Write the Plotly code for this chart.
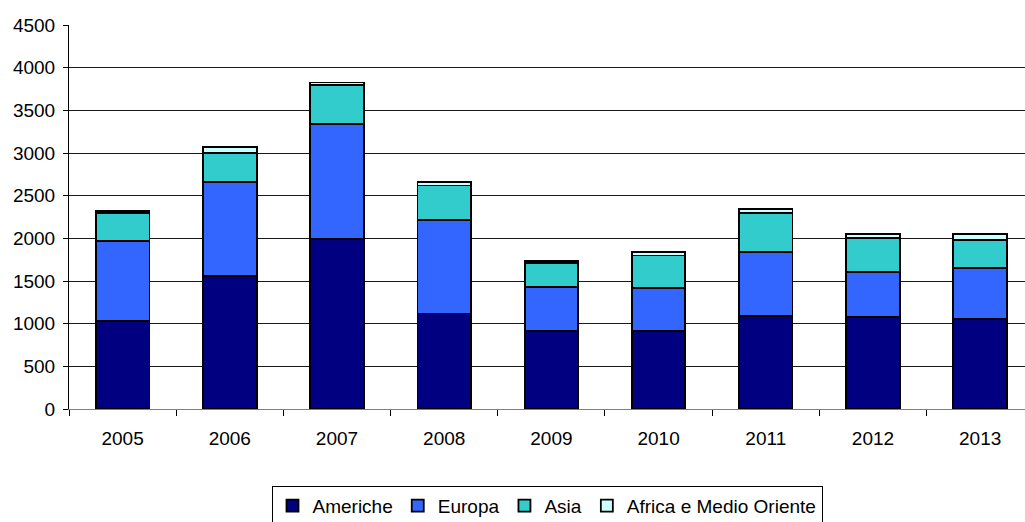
import plotly.graph_objects as go

# Annual totals by region, stacked bottom to top
years = ["2005", "2006", "2007", "2008", "2009", "2010", "2011", "2012", "2013"]
americhe = [1030, 1560, 1988, 1120, 915, 915, 1092, 1080, 1056]
europa = [935, 1100, 1350, 1095, 517, 500, 744, 524, 592]
asia = [332, 337, 461, 405, 278, 383, 464, 400, 332]
africa_mo = [24, 70, 27, 40, 22, 40, 44, 46, 70]

y_ticks = list(range(0, 4501, 500))

series = [
    ("Americhe", americhe, "#000080"),
    ("Europa", europa, "#3366FF"),
    ("Asia", asia, "#33CCCC"),
    ("Africa e Medio Oriente", africa_mo, "#CCFFFF"),
]

FONT = "Liberation Sans, Arial, sans-serif"

fig = go.Figure()
for name, values, color in series:
    fig.add_trace(go.Bar(
        x=years, y=values, name=name,
        marker=dict(color=color, line=dict(color="#000000", width=1.8)),
    ))

fig.update_layout(
    barmode="stack",
    bargap=0.5,
    width=1025, height=522,
    margin=dict(l=69, r=0, t=25, b=113, autoexpand=False),
    paper_bgcolor="white",
    plot_bgcolor="white",
    font=dict(family=FONT, size=19, color="#000000"),
    showlegend=True,
    legend=dict(
        orientation="h",
        x=0.5, xanchor="center",
        y=-0.2, yanchor="top",
        bordercolor="#000000", borderwidth=1,
        font=dict(family=FONT, size=19, color="#000000"),
        traceorder="normal",
        itemwidth=30,
        tracegroupgap=0,
    ),
)

fig.update_xaxes(
    type="category",
    range=[-0.5, 8.418],
    showline=True, linecolor="#808080", linewidth=1,
    ticks="outside", tickson="boundaries", ticklen=6, tickcolor="#000000",
    showgrid=False,
    tickfont=dict(family=FONT, size=19, color="#000000"),
    ticklabelstandoff=12,
)

fig.update_yaxes(
    range=[0, 4500],
    tickvals=y_ticks,
    showline=True, linecolor="#000000", linewidth=1,
    ticks="outside", ticklen=5, tickcolor="#000000",
    showgrid=True, gridcolor="#1a1a1a", gridwidth=1,
    zeroline=False,
    tickfont=dict(family=FONT, size=19, color="#000000"),
    ticklabelstandoff=4,
)

fig.write_html("out.html")
